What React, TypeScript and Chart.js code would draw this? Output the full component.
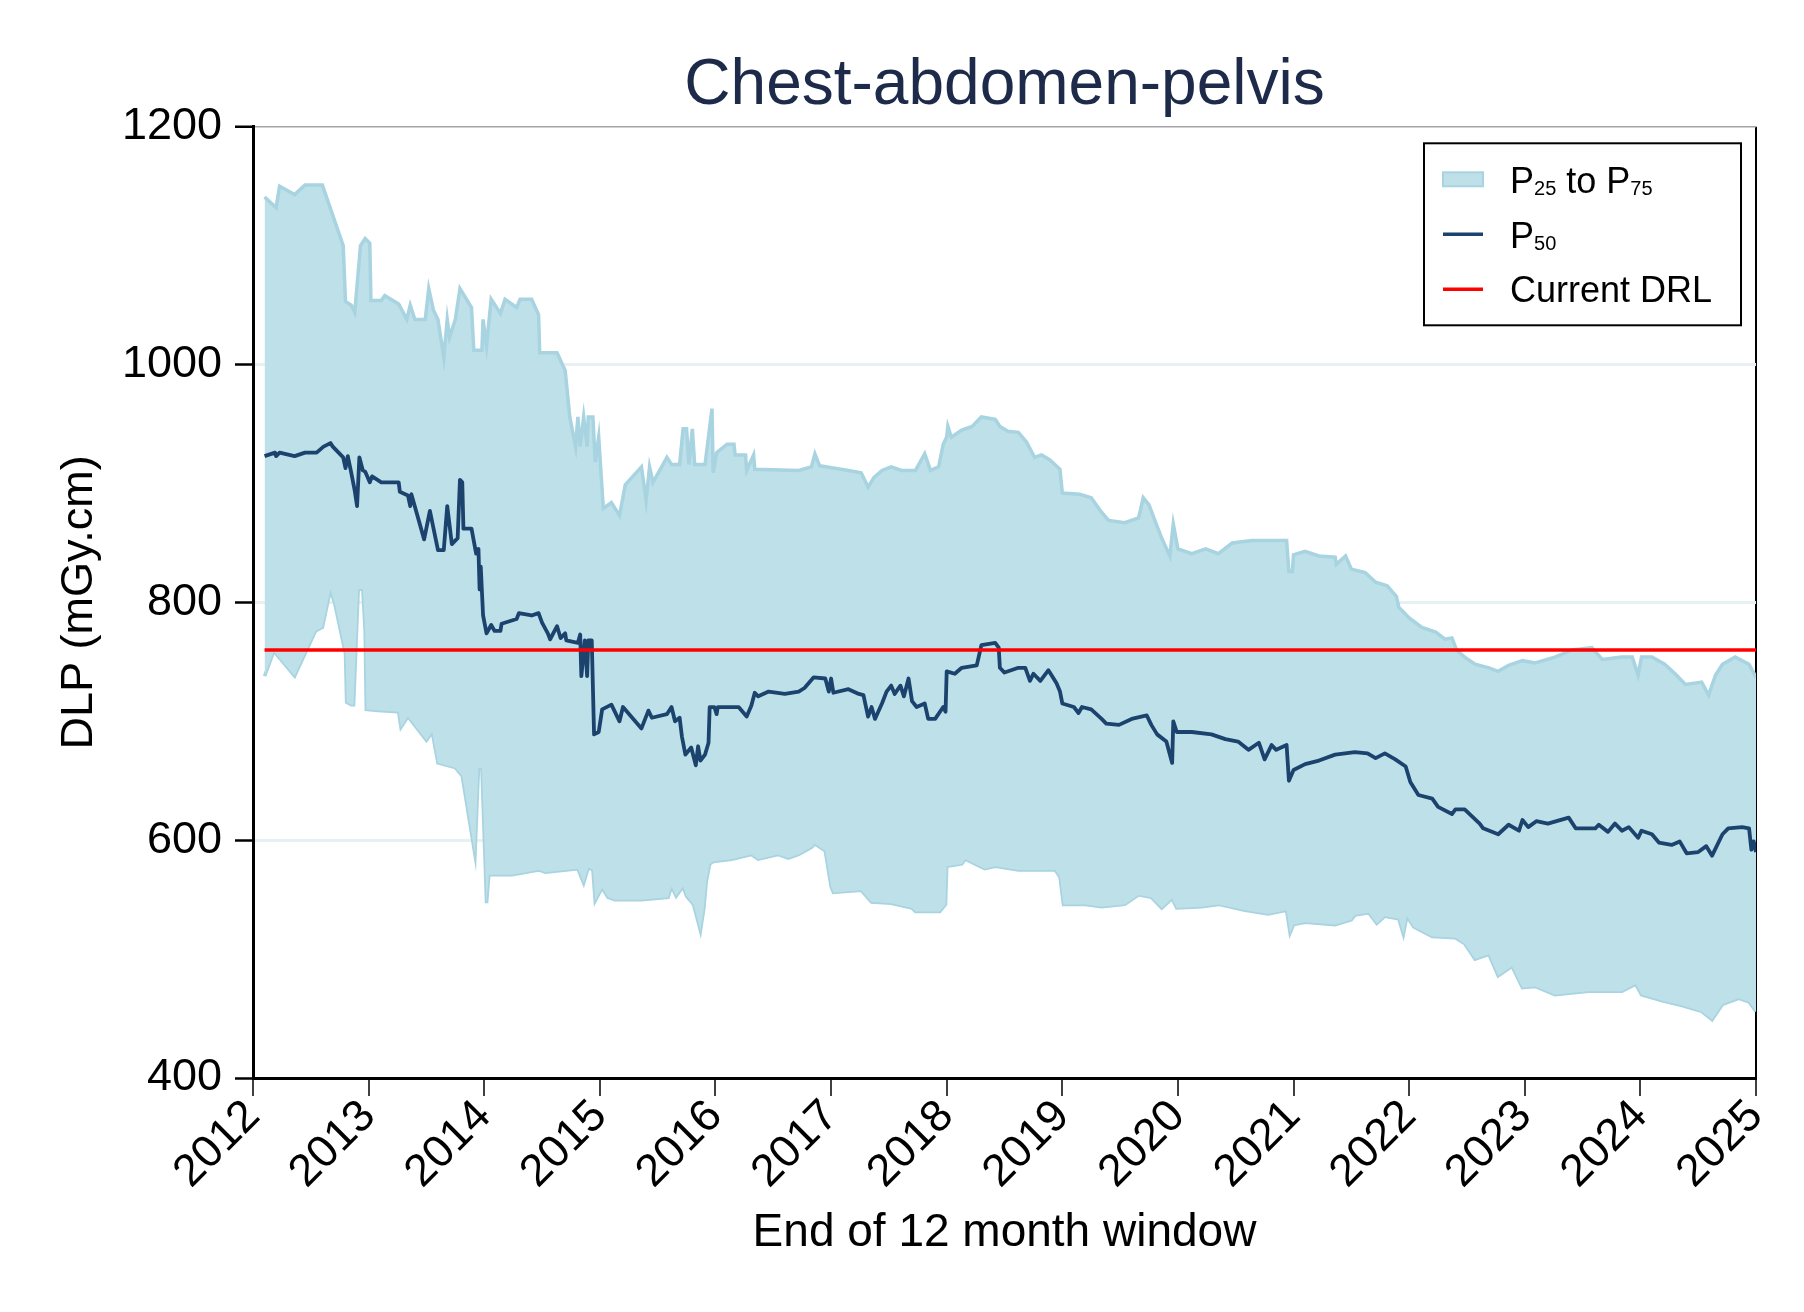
import { useEffect, useRef } from 'react'
import { Chart, registerables } from 'chart.js'

Chart.register(...registerables)

const FONT = 'Arial, "Liberation Sans", sans-serif'

// x = end of the 12 month window, as a decimal year
const p75Years = [
  2012.10, 2012.20, 2012.23, 2012.36, 2012.45, 2012.60, 2012.78, 2012.80, 2012.85, 2012.88,
  2012.93, 2012.97, 2013.01, 2013.02, 2013.11, 2013.14, 2013.26, 2013.33, 2013.36, 2013.40,
  2013.49, 2013.52, 2013.56, 2013.60, 2013.65, 2013.68, 2013.70, 2013.75, 2013.79, 2013.89,
  2013.91, 2013.98, 2013.99, 2014.02, 2014.06, 2014.14, 2014.18, 2014.28, 2014.31, 2014.41,
  2014.47, 2014.48, 2014.63, 2014.70, 2014.74, 2014.79, 2014.81, 2014.83, 2014.86, 2014.89,
  2014.90, 2014.94, 2014.96, 2014.99, 2015.03, 2015.10, 2015.17, 2015.22, 2015.36, 2015.40,
  2015.43, 2015.46, 2015.58, 2015.62, 2015.69, 2015.72, 2015.75, 2015.77, 2015.80, 2015.82,
  2015.91, 2015.97, 2015.98, 2016.01, 2016.10, 2016.16, 2016.17, 2016.26, 2016.27, 2016.33,
  2016.34, 2016.72, 2016.83, 2016.86, 2016.90, 2017.15, 2017.26, 2017.32, 2017.37, 2017.44,
  2017.52, 2017.61, 2017.73, 2017.81, 2017.86, 2017.93, 2017.97, 2018.00, 2018.01, 2018.04,
  2018.13, 2018.22, 2018.30, 2018.42, 2018.46, 2018.53, 2018.62, 2018.69, 2018.76, 2018.82,
  2018.89, 2018.98, 2019.00, 2019.15, 2019.25, 2019.33, 2019.40, 2019.54, 2019.66, 2019.70,
  2019.75, 2019.82, 2019.86, 2019.93, 2019.96, 2020.00, 2020.12, 2020.24, 2020.35, 2020.47,
  2020.64, 2020.81, 2020.94, 2020.96, 2020.99, 2021.00, 2021.10, 2021.22, 2021.36, 2021.37,
  2021.45, 2021.50, 2021.62, 2021.71, 2021.81, 2021.89, 2021.91, 2022.00, 2022.11, 2022.23,
  2022.31, 2022.37, 2022.41, 2022.48, 2022.57, 2022.69, 2022.77, 2022.86, 2022.98, 2023.09,
  2023.26, 2023.41, 2023.58, 2023.67, 2023.84, 2023.93, 2023.98, 2024.01, 2024.10, 2024.21,
  2024.30, 2024.39, 2024.53, 2024.59, 2024.65, 2024.71, 2024.82, 2024.94, 2025.00,
]
const p75Values = [
  1141, 1132, 1150, 1143, 1151, 1151, 1100, 1053, 1050, 1044,
  1100, 1106, 1102, 1054, 1054, 1058, 1051, 1038, 1050, 1038,
  1038, 1064, 1046, 1038, 1006, 1038, 1023, 1038, 1064, 1048,
  1012, 1012, 1038, 1016, 1055, 1043, 1055, 1048, 1055, 1055,
  1042, 1010, 1010, 995, 956, 931, 956, 931, 956, 931,
  956, 956, 918, 939, 879, 884, 873, 899, 914, 886,
  914, 901, 922, 916, 916, 946, 946, 916, 946, 916,
  916, 963, 909, 926, 933, 933, 924, 924, 911, 924,
  912, 911, 914, 925, 915, 911, 909, 897, 905, 911,
  914, 911, 911, 925, 911, 914, 933, 939, 948, 939,
  945, 948, 956, 954, 948, 944, 943, 935, 922, 924,
  920, 912, 892, 891, 888, 877, 869, 867, 871, 888,
  882, 864, 854, 839, 866, 845, 841, 845, 841, 850,
  852, 852, 852, 826, 826, 840, 843, 839, 838, 832,
  839, 828, 825, 817, 814, 805, 796, 787, 779, 775,
  769, 770, 760, 754, 748, 745, 742, 747, 751, 749,
  754, 760, 762, 752, 754, 754, 739, 754, 754, 748,
  740, 731, 733, 722, 739, 748, 754, 748, 737,
]

const p50Years = [
  2012.10, 2012.19, 2012.20, 2012.23, 2012.36, 2012.45, 2012.55, 2012.61, 2012.67, 2012.69,
  2012.78, 2012.80, 2012.82, 2012.85, 2012.88, 2012.90, 2012.92, 2012.95, 2012.97, 2013.01,
  2013.03, 2013.11, 2013.26, 2013.27, 2013.34, 2013.36, 2013.37, 2013.48, 2013.53, 2013.60,
  2013.65, 2013.68, 2013.72, 2013.77, 2013.79, 2013.81, 2013.82, 2013.89, 2013.93, 2013.95,
  2013.96, 2013.97, 2013.99, 2014.02, 2014.06, 2014.09, 2014.14, 2014.15, 2014.28, 2014.30,
  2014.41, 2014.47, 2014.50, 2014.55, 2014.57, 2014.63, 2014.66, 2014.70, 2014.71, 2014.81,
  2014.83, 2014.84, 2014.87, 2014.89, 2014.90, 2014.93, 2014.95, 2014.99, 2015.02, 2015.10,
  2015.17, 2015.20, 2015.36, 2015.42, 2015.45, 2015.58, 2015.62, 2015.65, 2015.69, 2015.71,
  2015.74, 2015.79, 2015.83, 2015.85, 2015.87, 2015.91, 2015.94, 2015.95, 2015.99, 2016.01,
  2016.02, 2016.20, 2016.27, 2016.31, 2016.34, 2016.37, 2016.46, 2016.60, 2016.72, 2016.77,
  2016.85, 2016.95, 2016.98, 2017.00, 2017.02, 2017.15, 2017.24, 2017.28, 2017.32, 2017.35,
  2017.38, 2017.44, 2017.48, 2017.52, 2017.55, 2017.60, 2017.63, 2017.67, 2017.70, 2017.74,
  2017.81, 2017.84, 2017.90, 2017.97, 2017.99, 2018.00, 2018.07, 2018.13, 2018.26, 2018.30,
  2018.42, 2018.45, 2018.46, 2018.50, 2018.62, 2018.68, 2018.72, 2018.75, 2018.81, 2018.88,
  2018.95, 2018.98, 2019.00, 2019.10, 2019.14, 2019.17, 2019.25, 2019.34, 2019.38, 2019.49,
  2019.60, 2019.73, 2019.77, 2019.82, 2019.90, 2019.95, 2019.96, 2019.99, 2020.12, 2020.29,
  2020.41, 2020.52, 2020.61, 2020.70, 2020.75, 2020.81, 2020.85, 2020.94, 2020.96, 2021.00,
  2021.10, 2021.22, 2021.36, 2021.53, 2021.64, 2021.71, 2021.79, 2021.88, 2021.97, 2022.01,
  2022.08, 2022.20, 2022.25, 2022.37, 2022.40, 2022.48, 2022.61, 2022.64, 2022.77, 2022.86,
  2022.95, 2022.98, 2023.03, 2023.10, 2023.20, 2023.38, 2023.44, 2023.61, 2023.64, 2023.72,
  2023.78, 2023.84, 2023.90, 2023.98, 2024.01, 2024.10, 2024.16, 2024.27, 2024.34, 2024.40,
  2024.50, 2024.57, 2024.62, 2024.71, 2024.76, 2024.88, 2024.94, 2024.96, 2024.98, 2025.00,
]
const p50Values = [
  923, 926, 923, 926, 923, 926, 926, 931, 934, 931,
  922, 913, 923, 909, 894, 881, 922, 911, 910, 901,
  906, 901, 901, 893, 890, 881, 891, 853, 877, 844,
  844, 881, 849, 854, 903, 901, 862, 862, 841, 845,
  811, 830, 789, 774, 781, 776, 776, 782, 786, 791,
  789, 791, 783, 774, 769, 780, 770, 774, 768, 766,
  773, 738, 768, 738, 768, 768, 689, 691, 710, 714,
  700, 712, 694, 709, 703, 706, 712, 700, 703, 687,
  672, 678, 663, 679, 667, 672, 682, 712, 712, 706,
  712, 712, 704, 713, 724, 721, 725, 723, 725, 728,
  737, 736, 725, 736, 724, 727, 723, 722, 704, 712,
  702, 715, 725, 730, 723, 730, 721, 736, 717, 712,
  715, 702, 702, 712, 708, 742, 740, 745, 747, 764,
  766, 762, 745, 741, 745, 745, 734, 740, 734, 743,
  732, 725, 715, 712, 707, 712, 710, 702, 698, 697,
  702, 705, 697, 689, 683, 665, 700, 691, 691, 689,
  685, 683, 676, 682, 668, 680, 676, 680, 650, 659,
  664, 667, 672, 674, 673, 669, 673, 668, 662, 649,
  638, 635, 628, 622, 626, 626, 614, 610, 605, 613,
  608, 617, 611, 616, 614, 619, 610, 610, 613, 607,
  614, 608, 611, 602, 608, 605, 598, 596, 599, 589,
  590, 595, 587, 605, 610, 611, 610, 592, 599, 590,
]

const p25Years = [
  2012.10, 2012.18, 2012.36, 2012.54, 2012.60, 2012.67, 2012.71, 2012.80, 2012.81, 2012.85,
  2012.87, 2012.91, 2012.95, 2012.97, 2012.98, 2013.08, 2013.26, 2013.28, 2013.34, 2013.50,
  2013.55, 2013.60, 2013.75, 2013.81, 2013.92, 2013.95, 2013.98, 2014.02, 2014.04, 2014.24,
  2014.47, 2014.53, 2014.81, 2014.86, 2014.90, 2014.94, 2014.96, 2015.02, 2015.07, 2015.13,
  2015.36, 2015.59, 2015.62, 2015.66, 2015.72, 2015.75, 2015.81, 2015.87, 2015.90, 2015.92,
  2015.95, 2015.98, 2016.14, 2016.31, 2016.37, 2016.54, 2016.63, 2016.72, 2016.83, 2016.86,
  2016.95, 2017.00, 2017.02, 2017.26, 2017.35, 2017.52, 2017.70, 2017.73, 2017.94, 2017.99,
  2018.00, 2018.13, 2018.16, 2018.33, 2018.42, 2018.62, 2018.94, 2018.98, 2019.01, 2019.20,
  2019.34, 2019.54, 2019.66, 2019.77, 2019.86, 2019.95, 2019.99, 2020.21, 2020.35, 2020.58,
  2020.78, 2020.94, 2020.97, 2021.00, 2021.10, 2021.36, 2021.50, 2021.53, 2021.65, 2021.72,
  2021.79, 2021.91, 2021.95, 2021.98, 2022.04, 2022.20, 2022.40, 2022.48, 2022.57, 2022.69,
  2022.77, 2022.89, 2022.98, 2023.09, 2023.26, 2023.55, 2023.84, 2023.96, 2024.01, 2024.19,
  2024.36, 2024.53, 2024.62, 2024.71, 2024.85, 2024.94, 2025.00,
]
const p25Values = [
  738, 759, 738, 776, 779, 811, 798, 757, 716, 714,
  714, 811, 811, 776, 710, 709, 708, 695, 704, 684,
  691, 665, 661, 654, 588, 661, 661, 547, 571, 571,
  575, 573, 576, 564, 577, 575, 549, 560, 552, 550,
  550, 552, 561, 553, 561, 553, 546, 524, 543, 565,
  580, 582, 584, 588, 584, 588, 585, 588, 594, 597,
  591, 561, 556, 558, 548, 547, 543, 540, 540, 546,
  578, 580, 584, 576, 578, 575, 575, 569, 546, 546,
  544, 546, 554, 552, 543, 551, 543, 544, 546, 541,
  538, 541, 522, 529, 531, 529, 533, 537, 539, 530,
  536, 534, 521, 536, 527, 519, 518, 513, 500, 504,
  486, 494, 476, 477, 470, 473, 473, 479, 470, 465,
  461, 456, 449, 462, 467, 464, 456,
]

const drlYears = [2012.1, 2025]
const drlValue = 760

const xMin = 2012
const xMax = 2025
const yMin = 400
const yMax = 1200

const legendRows = [
  { kind: 'band', parts: [['P', 0], ['25', 1], [' to P', 0], ['75', 1]] },
  { kind: 'p50', parts: [['P', 0], ['50', 1]] },
  { kind: 'drl', parts: [['Current DRL', 0]] },
]

const BAND_FILL = '#bee0e9'
const BAND_EDGE = '#a8d3e0'
const P50_COLOR = '#1b436d'
const DRL_COLOR = '#ff0000'

const pts = (xs: number[], ys: number[]) => xs.map((x, i) => ({ x, y: ys[i] }))

const boxLegend = {
  id: 'boxLegend',
  afterDraw(chart: any) {
    const ctx = chart.ctx as CanvasRenderingContext2D
    const { right, top } = chart.chartArea
    const bx = right - 332
    const by = top + 16.5
    ctx.save()
    ctx.fillStyle = '#fff'
    ctx.fillRect(bx, by, 317, 182)
    ctx.lineWidth = 2
    ctx.strokeStyle = '#000'
    ctx.strokeRect(bx, by, 317, 182)
    legendRows.forEach((row, i) => {
      const cy = by + 36 + i * 55
      const base = by + 50 + i * 54.5
      if (row.kind === 'band') {
        ctx.fillStyle = BAND_FILL
        ctx.fillRect(bx + 19, cy - 7, 40, 14)
        ctx.lineWidth = 2
        ctx.strokeStyle = BAND_EDGE
        ctx.strokeRect(bx + 19, cy - 7, 40, 14)
      } else {
        ctx.beginPath()
        ctx.moveTo(bx + 19, cy)
        ctx.lineTo(bx + 59, cy)
        ctx.lineWidth = 3.5
        ctx.strokeStyle = row.kind === 'p50' ? P50_COLOR : DRL_COLOR
        ctx.stroke()
      }
      let x = bx + 86
      ctx.fillStyle = '#000'
      ctx.textBaseline = 'alphabetic'
      ctx.textAlign = 'left'
      for (const [text, sub] of row.parts as [string, number][]) {
        ctx.font = sub ? `20px ${FONT}` : `36px ${FONT}`
        ctx.fillText(text, x, base + (sub ? 2 : 0))
        x += ctx.measureText(text).width
      }
    })
    ctx.restore()
  },
}

export default function App() {
  const ref = useRef<HTMLCanvasElement | null>(null)
  useEffect(() => {
    if (!ref.current) return
    const chart = new Chart(ref.current, {
      type: 'line',
      data: {
        datasets: [
          {
            label: 'Current DRL',
            data: pts(drlYears, drlYears.map(() => drlValue)),
            borderColor: DRL_COLOR,
            borderWidth: 3.5,
            pointRadius: 0,
            fill: false,
            order: 0,
          },
          {
            label: 'P50',
            data: pts(p50Years, p50Values),
            borderColor: P50_COLOR,
            borderWidth: 3.8,
            borderJoinStyle: 'round',
            pointRadius: 0,
            fill: false,
            order: 1,
          },
          {
            label: 'P75',
            data: pts(p75Years, p75Values),
            borderColor: BAND_EDGE,
            backgroundColor: BAND_FILL,
            borderWidth: 3.5,
            pointRadius: 0,
            fill: '+1',
            order: 2,
          },
          {
            label: 'P25',
            data: pts(p25Years, p25Values),
            borderColor: BAND_EDGE,
            borderWidth: 3.5,
            pointRadius: 0,
            fill: false,
            order: 3,
          },
        ],
      },
      options: {
        responsive: false,
        animation: false,
        parsing: false,
        layout: { padding: { top: 48, right: 48, bottom: 0, left: 0 } },
        plugins: {
          legend: { display: false },
          tooltip: { enabled: false },
          title: {
            display: true,
            fullSize: false,
            text: 'Chest-abdomen-pelvis',
            color: '#1d2a4a',
            font: { family: FONT, size: 64, weight: 'normal', lineHeight: 1.2 },
            padding: { top: 0, bottom: 2 },
          },
        },
        scales: {
          x: {
            type: 'linear',
            min: xMin,
            max: xMax,
            afterFit: (s: any) => { s.height = 234 },
            border: { display: true, color: '#000', width: 3 },
            grid: {
              color: (c: any) => (c.tick && c.tick.value === xMax ? '#000' : 'rgba(0,0,0,0)'),
              lineWidth: 2,
              tickColor: '#000',
              tickWidth: 1.5,
              tickLength: 18,
            },
            ticks: {
              stepSize: 1,
              autoSkip: false,
              minRotation: 45,
              maxRotation: 45,
              padding: -6,
              color: '#000',
              font: { family: FONT, size: 45 },
              callback: (v: any) => String(v),
            },
            title: {
              display: true,
              text: 'End of 12 month window',
              color: '#000',
              font: { family: FONT, size: 46, lineHeight: 1.2 },
              padding: { top: 0, bottom: 51 },
            },
          },
          y: {
            min: yMin,
            max: yMax,
            afterFit: (s: any) => { s.width = 253 },
            border: { display: true, color: '#000', width: 3 },
            grid: {
              color: (c: any) => {
                const v = c.tick && c.tick.value
                if (v === yMax) return '#a3a3a3'
                if (v === yMin) return 'rgba(0,0,0,0)'
                return '#e7f0f2'
              },
              lineWidth: (c: any) => (c.tick && c.tick.value === yMax ? 1.5 : 3),
              tickColor: '#000',
              tickWidth: 2.5,
              tickLength: 18,
            },
            ticks: {
              stepSize: 200,
              padding: 13,
              color: '#000',
              font: { family: FONT, size: 45 },
              callback: (v: any) => String(v),
            },
            title: {
              display: true,
              text: 'DLP (mGy.cm)',
              color: '#000',
              font: { family: FONT, size: 45, lineHeight: 1.2 },
              padding: { top: 53, bottom: 0 },
            },
          },
        },
      },
      plugins: [boxLegend],
    })
    return () => chart.destroy()
  }, [])
  return (
    <div style={{ position: 'fixed', left: 0, top: 0, width: 1804, height: 1312, background: '#fff' }}>
      <canvas ref={ref} width={1804} height={1312} style={{ width: 1804, height: 1312 }} />
    </div>
  )
}
